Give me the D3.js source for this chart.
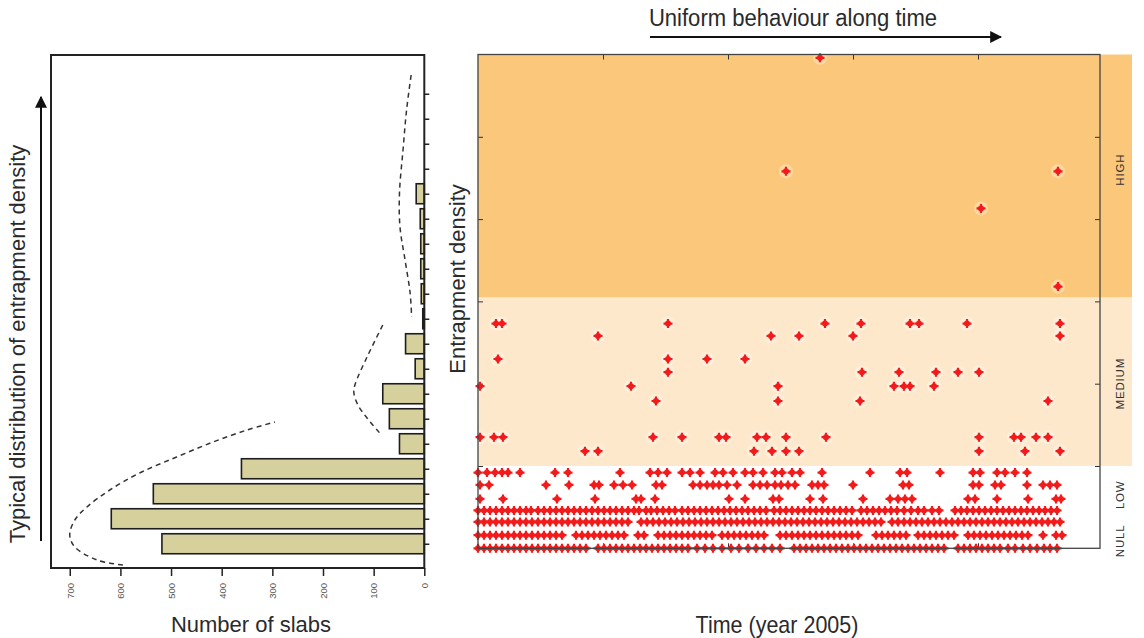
<!DOCTYPE html>
<html><head><meta charset="utf-8">
<script src="https://cdn.jsdelivr.net/npm/d3@7"></script>
<style>
body{margin:0;background:#fff;}
text{font-family:"Liberation Sans",Arial,sans-serif;}
</style></head><body>
<svg id="chart" width="1144" height="638"></svg>
<script>
// ---------- Left panel: histogram of entrapment density ----------
const densityBins = [0,1,2,3,4,5,6,7,8,9,10,11,12,13,14,15,16,17,18];
const slabCounts  = [518,618,535,361,49,69,82,18,37,3,6,7,7,8,16,0,0,0,0];
const slabTicks   = [0,100,200,300,400,500,600,700];
// dashed envelope curves: [number of slabs, bin position]
const curveLow  = [[595,-0.85],[646,-0.65],[690,-0.13],[700,0.35],[690,0.95],[666,1.47],[621,2.15],[562,2.83],[489,3.47],[417,4.07],[350,4.55],[295,4.87]];
const curveMid  = [[82,8.75],[113,7.47],[137,6.35],[139,6.03],[131,5.55],[113,5.03],[88,4.43]];
const curveHigh = [[26,18.75],[35,17.35],[42,15.75],[49,14.03],[48,12.67],[38,11.35],[28,10.03],[25,9.07]];

// ---------- Right panel: entrapment density along time ----------
const bandNames   = ["NULL","LOW","MEDIUM","HIGH"];
const bandLabelAt = [0.09,0.65,2.0,4.6];
const shadeNames  = ["MEDIUM","HIGH"];
const shadeFrom   = [1,3.05];
const shadeTo     = [3.05,6];
const timeTicks   = [125,250,375,500];
const densTicks   = [1,2,3,4,5];
// observed density levels and the times (slab sequence index) at which they occur
const levels = [0,0.16,0.32,0.46,0.6,0.77,0.92,1.18,1.35,1.79,1.97,2.14,2.3,2.58,2.73,3.18,4.13,4.58,5.96];
const t000 = [0,6,12,18,24,30,36,42,48,54,60,66,72,78,84,90,96,102,108,120,126,132,138,144,150,156,162,168,174,180,186,192,198,204,210,219,227,235,244,253,261,270,278,286,294,302,316,322,328,334,340,346,352,358,364,370,376,382,388,394,400,406,412,418,424,430,436,442,448,454,460,466,480,486,492,498,504,510,516,522,530,537,545,552,559,566,572,579];
const t016 = [0,6,12,18,24,30,36,42,48,54,60,66,72,78,84,98,104,110,116,122,128,134,140,146,160,166,180,186,192,198,204,210,216,222,228,234,244,250,256,262,268,274,280,286,302,308,314,320,326,332,338,344,350,356,362,368,374,380,398,404,410,416,422,428,440,446,452,458,464,470,476,490,496,502,508,514,520,526,532,538,544,550,565,578,584];
const t032 = [0,6,12,18,24,30,36,42,48,54,60,66,72,78,84,90,96,102,108,114,120,126,132,138,144,150,163,169,175,181,187,193,199,205,211,217,223,229,235,241,247,253,259,265,271,277,283,289,295,301,307,313,319,325,331,337,343,349,355,361,367,373,379,385,391,397,403,414,420,426,432,438,444,450,456,462,468,474,480,486,492,498,504,510,516,522,528,534,540,546,552,558,564,570,576,582];
const t046 = [0,6,12,18,24,30,36,42,48,53,60,66,72,78,84,90,96,102,108,114,120,126,132,138,144,150,156,161,168,173,179,185,191,197,204,210,216,222,228,234,240,246,252,258,264,270,276,282,288,296,302,308,314,320,326,332,338,344,350,356,362,368,374,383,389,395,401,407,413,419,426,433,440,446,454,461,477,483,489,495,501,507,513,519,525,531,537,543,549,555,561,567,573,579];
const t060 = [2,25,79,117,158,163,177,251,267,295,301,332,345,385,412,420,427,434,490,497,519,550,578,583];
const t077 = [2,11,68,91,116,121,136,145,154,178,184,215,222,229,235,241,249,259,275,282,289,297,303,310,317,334,340,346,375,425,431,495,501,517,523,549,565,572,579];
const t092 = [0,9,17,24,30,42,77,90,142,172,180,189,204,212,222,237,245,255,267,275,285,297,304,314,322,344,392,422,429,462,495,502,519,527,537,549];
const t118 = [107,120,276,294,308,321,501,547,582];
const t135 = [2,16,25,175,204,241,248,279,288,308,348,501,536,543,558,570];
const t179 = [178,300,382,570];
const t197 = [2,153,300,416,426,432,456];
const t214 = [190,384,421,458,480,501];
const t230 = [20,190,229,267];
const t258 = [120,293,321,375,582];
const t273 = [18,24,190,347,383,432,441,489,582];
const t318 = [580];
const t413 = [503];
const t458 = [308,580];
const t596 = [342];
const timesByLevel = [t000,t016,t032,t046,t060,t077,t092,t118,t135,t179,t197,t214,t230,t258,t273,t318,t413,t458,t596];

const svg = d3.select("#chart");
const ink = "#222";

// arrow marker
const defs = svg.append("defs");
defs.append("marker").attr("id","arr").attr("viewBox","0 0 10 10").attr("refX",9).attr("refY",5)
  .attr("markerWidth",6).attr("markerHeight",6).attr("orient","auto")
  .append("path").attr("d","M0,0L10,5L0,10Z").attr("fill","#111");

// ===== LEFT PANEL =====
const xL = d3.scaleLinear().domain([0,737]).range([424.3,51]);
const yL = d3.scaleLinear().domain([-0.97,19.55]).range([568,55]);
const barH = 20;

const left = svg.append("g");
left.selectAll("rect.bar").data(densityBins.filter((d,i)=>slabCounts[i]>0)).join("rect")
  .attr("class","bar")
  .attr("x",d=>xL(slabCounts[d]))
  .attr("y",d=>yL(d)-barH/2)
  .attr("width",d=>xL(0)-xL(slabCounts[d]))
  .attr("height",barH)
  .attr("fill","#d6d09c").attr("stroke","#1d1d1d").attr("stroke-width",1.6);

const line = d3.line().x(d=>xL(d[0])).y(d=>yL(d[1])).curve(d3.curveCatmullRom);
[curveLow,curveMid,curveHigh].forEach(c=>{
  left.append("path").attr("d",line(c)).attr("fill","none").attr("stroke","#333")
    .attr("stroke-width",1.5).attr("stroke-dasharray","5,4");
});

left.append("rect").attr("x",xL.range()[1]).attr("y",yL.range()[1])
  .attr("width",xL.range()[0]-xL.range()[1]).attr("height",yL.range()[0]-yL.range()[1])
  .attr("fill","none").attr("stroke",ink).attr("stroke-width",2);

const axR = left.append("g").attr("transform",`translate(${xL(0)},0)`)
  .call(d3.axisRight(yL).tickValues(densityBins).tickSize(5).tickFormat(""));
axR.select(".domain").remove();
axR.selectAll("line").attr("stroke",ink).attr("stroke-width",1.5);

const axB = left.append("g").attr("transform",`translate(0,${yL.range()[0]})`)
  .call(d3.axisBottom(xL).tickValues(slabTicks).tickSize(8));
axB.select(".domain").remove();
axB.selectAll("line").attr("stroke",ink).attr("stroke-width",1.5);
axB.selectAll("text").attr("transform","rotate(-90)").attr("text-anchor","end")
  .attr("x",-15).attr("y",0).attr("dy","0.35em")
  .attr("font-size",9.5).attr("fill","#555").attr("font-family","Liberation Sans, Arial, sans-serif");

left.append("text").attr("transform","translate(25,344) rotate(-90)").attr("text-anchor","middle")
  .attr("font-size",22).attr("fill","#2a2a2a").text("Typical distribution of entrapment density");
left.append("line").attr("x1",41).attr("x2",41).attr("y1",541).attr("y2",97)
  .attr("stroke","#111").attr("stroke-width",2).attr("marker-end","url(#arr)");
left.append("text").attr("x",251).attr("y",632).attr("text-anchor","middle")
  .attr("font-size",22).attr("fill","#2a2a2a").text("Number of slabs");

// ===== RIGHT PANEL =====
const xR = d3.scaleLinear().domain([0,622]).range([478,1100]);
const yR = d3.scaleLinear().domain([0,6]).range([548.3,54.5]);
const right = svg.append("g");

const shadeColor = {HIGH:"#fbc87b", MEDIUM:"#fde8cb"};
shadeNames.forEach((n,i)=>{
  right.append("rect").attr("x",xR(0)).attr("width",1132-xR(0))
    .attr("y",yR(shadeTo[i])).attr("height",yR(shadeFrom[i])-yR(shadeTo[i]))
    .attr("fill",shadeColor[n]);
});

// points
const pts = [];
levels.forEach((lv,i)=>timesByLevel[i].forEach(t=>pts.push({t,lv})));
right.append("g").selectAll("circle").data(pts).join("circle")
  .attr("cx",d=>xR(d.t)).attr("cy",d=>yR(d.lv)).attr("r",7)
  .attr("fill","#fff").attr("opacity",0.3);

const ax = (g)=>{g.select(".domain").remove(); g.selectAll("line").attr("stroke","#333").attr("stroke-width",1);};
right.append("g").attr("transform",`translate(0,${yR(6)})`).call(d3.axisTop(xR).tickValues(timeTicks).tickSize(-5).tickFormat("")).call(ax);
right.append("g").attr("transform",`translate(0,${yR(0)})`).call(d3.axisBottom(xR).tickValues(timeTicks).tickSize(-5).tickFormat("")).call(ax);
right.append("g").attr("transform",`translate(${xR(0)},0)`).call(d3.axisLeft(yR).tickValues(densTicks).tickSize(-5).tickFormat("")).call(ax);
right.append("g").attr("transform",`translate(${xR(622)},0)`).call(d3.axisRight(yR).tickValues(densTicks).tickSize(-5).tickFormat("")).call(ax);

const red = "#f21a1a";
const mk = right.append("g").selectAll("g").data(pts).join("g")
  .attr("transform",d=>`translate(${xR(d.t)},${yR(d.lv)})`);
mk.append("path").attr("d","M-4.5,0H4.5M0,-4.5V4.5").attr("stroke",red).attr("stroke-width",2.2);
mk.append("circle").attr("r",3).attr("fill",red);

right.append("rect").attr("x",xR(0)).attr("y",yR(6)).attr("width",xR(622)-xR(0)).attr("height",yR(0)-yR(6))
  .attr("fill","none").attr("stroke","#444").attr("stroke-width",1.3);

bandNames.forEach((n,i)=>{
  right.append("text").attr("transform",`translate(1124,${yR(bandLabelAt[i])}) rotate(-90)`)
    .attr("text-anchor","middle").attr("font-size",11.5).attr("letter-spacing",0.8)
    .attr("fill","#333").text(n);
});

right.append("text").attr("transform","translate(465,279) rotate(-90)").attr("text-anchor","middle")
  .attr("font-size",22).attr("fill","#2a2a2a").text("Entrapment density");
right.append("text").attr("transform","translate(777,633) scale(0.935,1)").attr("text-anchor","middle")
  .attr("font-size",23).attr("fill","#2a2a2a").text("Time (year 2005)");
right.append("text").attr("transform","translate(793,26) scale(0.96,1)").attr("text-anchor","middle")
  .attr("font-size",23).attr("fill","#2a2a2a").text("Uniform behaviour along time");
right.append("line").attr("x1",650).attr("x2",1001).attr("y1",37).attr("y2",37)
  .attr("stroke","#111").attr("stroke-width",2).attr("marker-end","url(#arr)");
</script>
</body></html>
